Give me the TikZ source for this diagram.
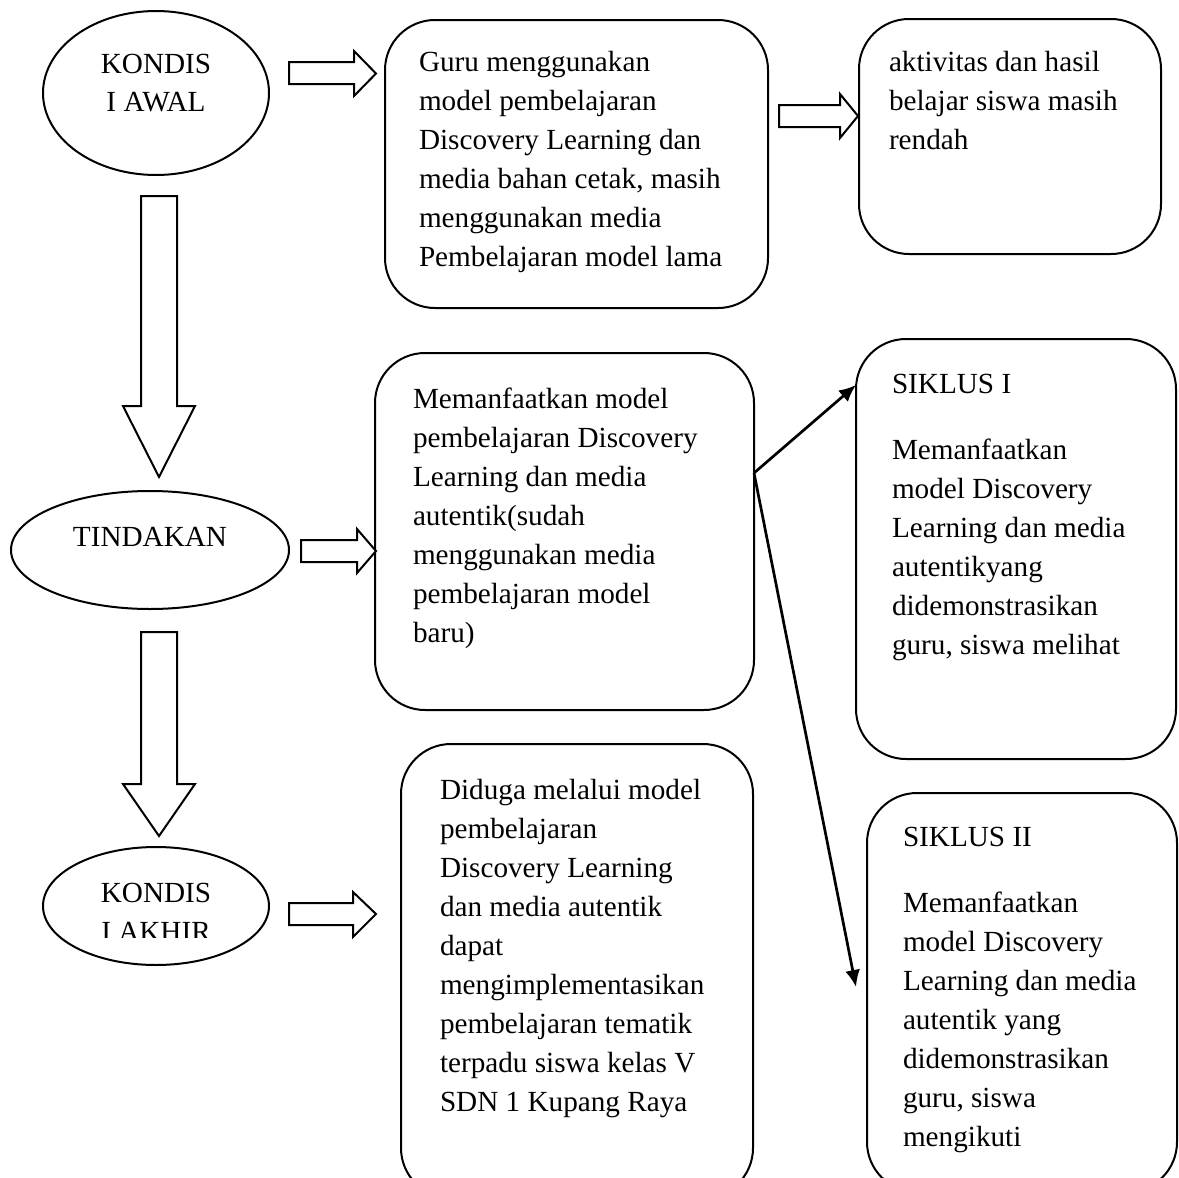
\documentclass[tikz,border=0pt]{standalone}
\usepackage{fontspec}
\setmainfont{Liberation Serif}
\usetikzlibrary{shapes.geometric,arrows.meta}
\tikzset{
  box/.style={draw, line width=1pt, rounded corners=25pt, inner sep=0pt, outer sep=0pt},
  oval/.style={draw, ellipse, line width=1pt, inner sep=0pt, outer sep=0pt},
  txt/.style={inner sep=0pt, outer sep=0pt, align=left, anchor=north west, font=\fontsize{14.6}{19.5}\selectfont},
  ctxt/.style={inner sep=0pt, outer sep=0pt, align=center, font=\fontsize{14.6}{19.5}\selectfont},
  blockarrow/.style={draw, line width=1pt, fill=white, line join=miter},
  thin/.style={line width=1.35pt, -{Latex[length=8.5pt,width=7.5pt]}}
}
\begin{document}
\begin{tikzpicture}[x=0.5pt,y=-0.5pt]
\useasboundingbox (0,0) rectangle (1179,1178);
\clip (0,0) rectangle (1179,1178);
\fill[white] (0,0) rectangle (1179,1178);

% ellipses
\node[oval, minimum width=113pt, minimum height=82pt] (awal) at (156,93) {};
\node[oval, minimum width=139pt, minimum height=59pt] (tindakan) at (150,550) {};
\node[oval, minimum width=113pt, minimum height=59pt] (akhir) at (156,906) {};

\node[ctxt, anchor=north] (awalt) at (156,45.7) {\strut KONDIS\\I AWAL};
\node[ctxt, anchor=base] (tindakant) at (150,546) {TINDAKAN};
\begin{scope}
\clip (40,850) rectangle (275,937);
\node[ctxt, anchor=north] (akhirt) at (156,874.7) {\strut KONDIS\\I AKHIR};
\end{scope}

% boxes
\node[box, minimum width=191.5pt, minimum height=144pt] (guru) at (576.5,164) {};
\node[box, minimum width=151pt, minimum height=117.5pt] (hasil) at (1010,136.5) {};
\node[box, minimum width=189.5pt, minimum height=178.5pt] (mid) at (564.5,531.5) {};
\node[box, minimum width=160pt, minimum height=210pt] (s1) at (1016,549) {};
\node[box, minimum width=155pt, minimum height=199.5pt] (s2) at (1022,992.5) {};
\node[box, minimum width=176pt, minimum height=227pt] (duga) at (577,971) {};

% texts
\node[txt] (gurut) at (419,43.7) {\strut Guru menggunakan\\model pembelajaran\\Discovery Learning dan\\media bahan cetak, masih\\menggunakan media\\Pembelajaran model lama};
\node[txt] (hasilt) at (889,43.7) {\strut aktivitas dan hasil\\belajar siswa masih\\rendah};
\node[txt] (midt) at (413,380.7) {\strut Memanfaatkan model\\pembelajaran Discovery\\Learning dan media\\autentik(sudah\\menggunakan media\\pembelajaran model\\baru)};
\node[txt] (s1t) at (892,365.7) {\strut SIKLUS I\\[13.5pt]Memanfaatkan\\model Discovery\\Learning dan media\\autentikyang\\didemonstrasikan\\guru, siswa melihat};
\node[txt] (s2t) at (903,818.7) {\strut SIKLUS II\\[13.5pt]Memanfaatkan\\model Discovery\\Learning dan media\\autentik yang\\didemonstrasikan\\guru, siswa\\mengikuti};
\node[txt] (dugat) at (440,771.7) {\strut Diduga melalui model\\pembelajaran\\Discovery Learning\\dan media autentik\\dapat\\mengimplementasikan\\pembelajaran tematik\\terpadu siswa kelas V\\SDN 1 Kupang Raya};

% block arrows (horizontal)
\draw[blockarrow] (289,62) -- (354,62) -- (354,51) -- (376,73.5) -- (354,96) -- (354,84) -- (289,84) -- cycle;
\draw[blockarrow] (779,105) -- (840,105) -- (840,94) -- (858,116) -- (840,138) -- (840,127) -- (779,127) -- cycle;
\draw[blockarrow] (301,540) -- (357,540) -- (357,529) -- (376,551) -- (357,573) -- (357,562) -- (301,562) -- cycle;
\draw[blockarrow] (289,903) -- (353,903) -- (353,892) -- (376,914) -- (353,937) -- (353,925) -- (289,925) -- cycle;

% block arrows (vertical)
\draw[blockarrow] (141,196) -- (177,196) -- (177,406) -- (195,406) -- (159,477) -- (123,406) -- (141,406) -- cycle;
\draw[blockarrow] (141,632) -- (177,632) -- (177,784) -- (195,784) -- (159,836) -- (123,784) -- (141,784) -- cycle;

% thin connectors
\coordinate (fork) at (754,473);
\coordinate (s1in) at (856,385);
\coordinate (s2in) at (856,987);
\draw[thin] (fork) -- (s1in);
\draw[thin] (fork) -- (s2in);
\end{tikzpicture}
\end{document}
